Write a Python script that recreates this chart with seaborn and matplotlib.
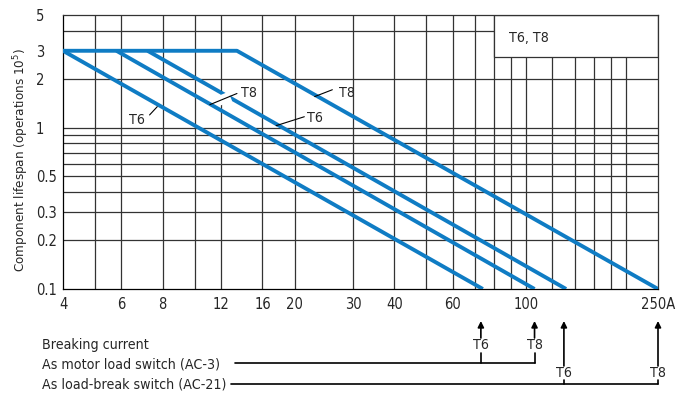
import numpy as np
import seaborn as sns
import matplotlib.pyplot as plt
from matplotlib.patches import Rectangle
from matplotlib.transforms import blended_transform_factory

# curves (breaking current in A, lifespan in 10^5 operations)
t6_ac3_x = [4, 74]
t6_ac3_y = [3, 0.1]
t8_ac3_x = [5.8, 106]
t8_ac3_y = [3, 0.1]
t6_ac21_x = [7.2, 132]
t6_ac21_y = [3, 0.1]
t8_ac21_x = [4, 13.4, 250]
t8_ac21_y = [3, 3, 0.1]

x_grid = [5, 6, 8, 10, 12, 16, 20, 30, 40, 50, 60, 70, 80, 90, 100,
          120, 140, 160, 180, 200]
y_grid = [0.2, 0.3, 0.4, 0.5, 0.6, 0.7, 0.8, 0.9, 1, 2, 4]
x_ticks = [4, 6, 8, 12, 16, 20, 30, 40, 60, 100, 250]
x_labels = ["4", "6", "8", "12", "16", "20", "30", "40", "60", "100", "250A"]
y_ticks = [0.1, 0.2, 0.3, 0.5, 1, 2, 3, 5]
y_labels = ["0.1", "0.2", "0.3", "0.5", "1", "2", "3", "5"]

# where the breaking current arrows sit
ac3_marks = [(73, "T6"), (106, "T8")]
ac21_marks = [(130, "T6"), (250, "T8")]

sns.set_theme(style="white")
plt.rcParams['font.family'] = ['DejaVu Sans']
plt.rcParams['font.stretch'] = 'condensed'
fs = 10.2

blue = "#0f7cc4"
grid_col = "#333333"

fig = plt.figure(figsize=(6.85, 3.94), dpi=100)
ax = fig.add_axes([63/685, 1 - 289/394, 595/685, 274/394])
ax.set_xscale("log")
ax.set_yscale("log")
ax.set_xlim(4, 250)
ax.set_ylim(0.1, 5)

ax.vlines(x_grid, 0.1, 5, color=grid_col, lw=0.9, zorder=1)
ax.hlines(y_grid, 4, 250, color=grid_col, lw=0.9, zorder=1)
# white label box in the top right corner
ax.add_patch(Rectangle((80, 2.76), 170, 5 - 2.76, facecolor="white",
                       edgecolor=grid_col, lw=0.9, zorder=2))
ax.text(89, 3.62, "T6, T8", ha="left", va="center", fontsize=fs, zorder=3)

for xs, ys in [(t6_ac3_x, t6_ac3_y), (t8_ac3_x, t8_ac3_y),
               (t6_ac21_x, t6_ac21_y), (t8_ac21_x, t8_ac21_y)]:
    sns.lineplot(x=xs, y=ys, ax=ax, color=blue, lw=2.8, zorder=4,
                 solid_capstyle="butt", estimator=None, sort=False)

# curve labels with leader lines
leaders = [("T6", (7.3, 1.2), (7.7, 1.35), (6.7, 1.12)),
           ("T8", (11.1, 1.39), (13.4, 1.63), (14.6, 1.65)),
           ("T6", (17.6, 1.03), (21.4, 1.17), (23.0, 1.15)),
           ("T8", (23.0, 1.56), (26.0, 1.72), (28.8, 1.65))]
for lab, p0, p1, pt in leaders:
    ax.plot([p0[0], p1[0]], [p0[1], p1[1]], color="black", lw=0.8, zorder=6)
    ax.text(pt[0], pt[1], lab, ha="center", va="center", fontsize=fs, zorder=6)

# the T8 leader crosses the T6 (AC-21) curve through a small gap
(gx0, gy0), (gx1, gy1) = leaders[1][1], leaders[1][2]
lx = np.exp(np.log(gx0) + np.array([0.3, 0.75]) * np.log(gx1 / gx0))
ly = np.exp(np.log(gy0) + np.array([0.3, 0.75]) * np.log(gy1 / gy0))
ax.plot(lx, ly, color="white", lw=7, zorder=5, solid_capstyle="butt")

ax.set_xticks(x_ticks)
ax.set_xticklabels(x_labels)
ax.set_xticks([], minor=True)
ax.set_yticks(y_ticks)
ax.set_yticklabels(y_labels)
ax.set_yticks([], minor=True)
ax.tick_params(axis="x", length=0, pad=6, labelsize=10.5)
ax.tick_params(axis="y", length=0, pad=19.5, labelsize=10.5)
for t in ax.get_yticklabels():
    t.set_ha("left")
for s in ax.spines.values():
    s.set_color(grid_col)
    s.set_linewidth(0.9)
ax.spines["left"].set_color("black")
ax.spines["bottom"].set_color("black")
ax.set_ylabel("Component lifespan (operations 10$^5$)", fontsize=9.6)
ax.yaxis.set_label_coords(-0.054, 0.47)

# breaking current rows under the chart
tr = blended_transform_factory(ax.transData, fig.transFigure)
def fy(py):
    return 1 - py / 394

fig.text(42/685, fy(345), "Breaking current", ha="left", va="center", fontsize=fs)
fig.text(42/685, fy(365), "As motor load switch (AC-3)", ha="left", va="center", fontsize=fs)
fig.text(42/685, fy(384), "As load-break switch (AC-21)", ha="left", va="center", fontsize=fs)

ax.plot([13.2, ac3_marks[-1][0]], [fy(363), fy(363)], transform=tr, color="black",
        lw=1.2, clip_on=False)
for xv, lab in ac3_marks:
    ax.plot([xv, xv], [fy(363), fy(353)], transform=tr, color="black", lw=1.2, clip_on=False)
    ax.text(xv, fy(345), lab, transform=tr, ha="center", va="center", fontsize=fs)
    ax.annotate("", xy=(xv, fy(321)), xytext=(xv, fy(338)), xycoords=tr, textcoords=tr,
                arrowprops=dict(arrowstyle="-|>", color="black", lw=1.2,
                                mutation_scale=9, shrinkA=0, shrinkB=0),
                annotation_clip=False)

ax.plot([12.9, ac21_marks[-1][0]], [fy(384), fy(384)], transform=tr, color="black",
        lw=1.2, clip_on=False)
for xv, lab in ac21_marks:
    ax.plot([xv, xv], [fy(384), fy(380)], transform=tr, color="black", lw=1.2, clip_on=False)
    ax.text(xv, fy(373), lab, transform=tr, ha="center", va="center", fontsize=fs)
    ax.annotate("", xy=(xv, fy(321)), xytext=(xv, fy(366)), xycoords=tr, textcoords=tr,
                arrowprops=dict(arrowstyle="-|>", color="black", lw=1.2,
                                mutation_scale=9, shrinkA=0, shrinkB=0),
                annotation_clip=False)

fig.savefig("out.png", dpi=100)
